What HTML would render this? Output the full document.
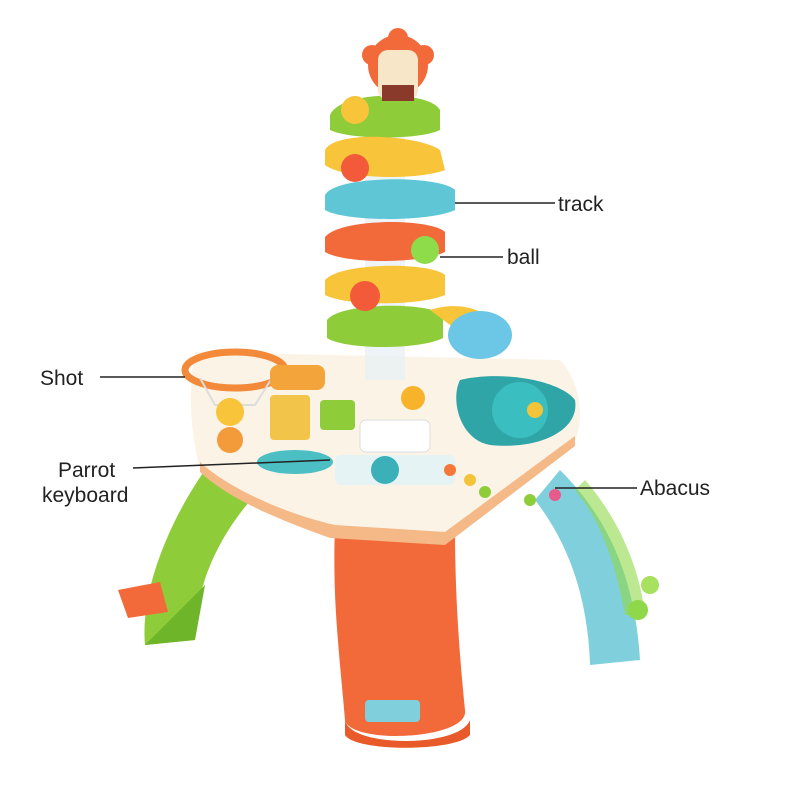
<!DOCTYPE html>
<html><head><meta charset="utf-8"><style>
html,body{margin:0;padding:0;background:#fff;}
svg{display:block;}
text{font-family:"Liberation Sans",sans-serif;font-size:21px;fill:#222;}
</style></head><body>
<svg width="800" height="800" viewBox="0 0 800 800" xmlns="http://www.w3.org/2000/svg">
<rect width="800" height="800" fill="#fff"/>
<!-- legs -->
<path d="M205,470 C170,520 140,590 145,645 L195,640 C195,590 215,540 255,495 Z" fill="#8fcc3a"/>
<path d="M145,645 L195,640 L205,585 Z" fill="#6fb52a"/>
<path d="M118,590 L160,582 L168,612 L128,618 Z" fill="#f26a3a"/>
<path d="M560,470 C610,520 635,580 640,660 L590,665 C588,600 570,545 535,500 Z" fill="#7fd0dc"/>
<path d="M585,480 C620,520 640,570 645,615 L625,615 C615,560 600,520 575,490 Z" fill="#8fd84a" opacity="0.6"/>
<circle cx="638" cy="610" r="10" fill="#8fd84a"/>
<circle cx="650" cy="585" r="9" fill="#a8e060"/>
<path d="M335,528 L455,528 C455,600 460,660 465,710 C470,740 350,745 345,720 C340,660 332,600 335,528 Z" fill="#f26a3a"/>
<path d="M345,720 C350,748 460,748 470,720 L470,735 C455,752 355,752 345,735 Z" fill="#e85a2a"/>
<rect x="365" y="700" width="55" height="22" rx="4" fill="#7fd0dc"/>
<!-- table top -->
<path d="M195,352 L560,360 C580,380 585,420 575,440 L445,540 L330,530 C260,505 215,485 200,470 C190,430 188,390 195,352 Z" fill="#fbf3e6"/>
<path d="M200,462 C230,490 290,515 335,525 L445,532 L575,436 L575,446 L445,545 L330,538 C280,520 230,500 200,472 Z" fill="#f4b987"/>
<!-- hoop -->
<ellipse cx="235" cy="370" rx="50" ry="18" fill="none" stroke="#f28a3a" stroke-width="7"/>
<path d="M200,378 L215,405 L255,405 L272,378" fill="none" stroke="#ddd" stroke-width="2"/>
<!-- table toys -->
<rect x="270" y="365" width="55" height="25" rx="8" fill="#f3a43a"/>
<circle cx="230" cy="412" r="14" fill="#f7c43a"/>
<circle cx="230" cy="440" r="13" fill="#f39a3a"/>
<rect x="270" y="395" width="40" height="45" rx="4" fill="#f3c44a"/>
<rect x="320" y="400" width="35" height="30" rx="4" fill="#8fcc3a"/>
<path d="M460,380 C500,370 560,380 575,400 C580,430 540,450 490,445 C460,440 450,400 460,380 Z" fill="#2fa5a8"/>
<circle cx="520" cy="410" r="28" fill="#3bbec0"/>
<circle cx="535" cy="410" r="8" fill="#f3c43a"/>
<rect x="360" y="420" width="70" height="32" rx="6" fill="#ffffff" stroke="#ddd"/>
<ellipse cx="295" cy="462" rx="38" ry="12" fill="#4bbfc4"/>
<rect x="335" y="455" width="120" height="30" rx="6" fill="#e6f3f4"/>
<circle cx="385" cy="470" r="14" fill="#3bb0b8"/>
<circle cx="450" cy="470" r="6" fill="#f3783a"/>
<circle cx="470" cy="480" r="6" fill="#f3c43a"/>
<circle cx="485" cy="492" r="6" fill="#8fcc3a"/>
<circle cx="555" cy="495" r="6" fill="#e85a8a"/>
<circle cx="530" cy="500" r="6" fill="#8fcc3a"/>
<!-- tower -->
<rect x="365" y="100" width="40" height="280" fill="#e8f0f4" opacity="0.8"/>
<path d="M330,115 C340,90 430,90 440,110 L440,130 C420,140 350,140 330,130 Z" fill="#8fcc3a"/>
<path d="M325,150 C335,130 420,135 440,150 L445,170 C420,180 345,180 325,165 Z" fill="#f7c43a"/>
<path d="M325,195 C335,175 440,175 455,190 L455,210 C430,222 345,222 325,210 Z" fill="#5fc6d6"/>
<path d="M325,237 C340,218 430,218 445,232 L445,252 C420,264 345,264 325,252 Z" fill="#f26a3a"/>
<path d="M325,280 C340,262 430,262 445,275 L445,295 C420,306 345,306 325,295 Z" fill="#f7c43a"/>
<path d="M327,320 C340,302 430,302 443,315 L443,338 C420,350 345,350 327,338 Z" fill="#8fcc3a"/>
<path d="M430,310 C460,300 490,310 500,330 L470,340 Z" fill="#f7c43a"/>
<circle cx="355" cy="110" r="14" fill="#f7c43a"/>
<circle cx="355" cy="168" r="14" fill="#f25a3a"/>
<circle cx="425" cy="250" r="14" fill="#8fdc4a"/>
<circle cx="365" cy="296" r="15" fill="#f25a3a"/>
<circle cx="413" cy="398" r="12" fill="#f7b42a"/>
<!-- lion -->
<circle cx="398" cy="65" r="30" fill="#f26a3a"/>
<circle cx="372" cy="55" r="10" fill="#f26a3a"/><circle cx="424" cy="55" r="10" fill="#f26a3a"/>
<circle cx="398" cy="38" r="10" fill="#f26a3a"/>
<rect x="378" y="50" width="40" height="50" rx="10" fill="#f8e6c8"/>
<rect x="382" y="85" width="32" height="16" fill="#8a3a2a"/>
<!-- elephant -->
<ellipse cx="480" cy="335" rx="32" ry="24" fill="#6cc6e6"/>
<!-- labels -->
<line x1="455" y1="203" x2="555" y2="203" stroke="#222" stroke-width="1.5"/>
<text x="558" y="211">track</text>
<line x1="440" y1="257" x2="503" y2="257" stroke="#222" stroke-width="1.5"/>
<text x="507" y="264">ball</text>
<line x1="100" y1="377" x2="185" y2="377" stroke="#222" stroke-width="1.5"/>
<text x="40" y="385">Shot</text>
<line x1="133" y1="468" x2="330" y2="460" stroke="#222" stroke-width="1.5"/>
<text x="58" y="477">Parrot</text>
<text x="42" y="502">keyboard</text>
<line x1="555" y1="488" x2="637" y2="488" stroke="#222" stroke-width="1.5"/>
<text x="640" y="495">Abacus</text>
</svg>
</body></html>
